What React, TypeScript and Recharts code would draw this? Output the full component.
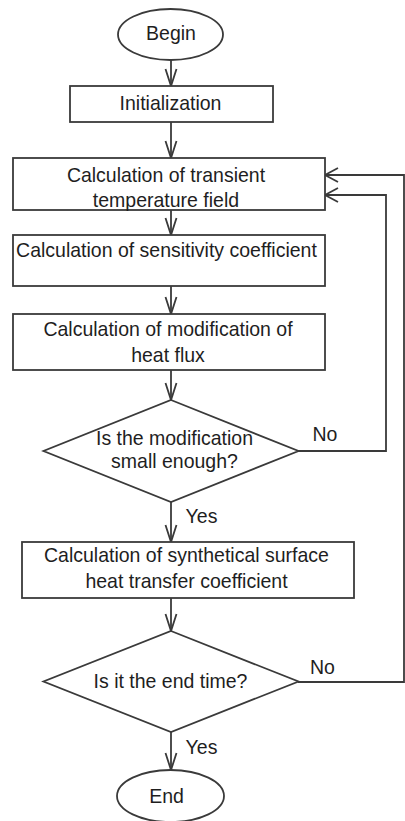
import React from "react";
import { ScatterChart, Scatter, XAxis, YAxis } from "recharts";

// ---- Flowchart content (data) ----
const nodeTexts: string[][] = [
  ["Begin"],
  ["Initialization"],
  ["Calculation of transient", "temperature field"],
  ["Calculation of sensitivity coefficient"],
  ["Calculation of modification of", "heat flux"],
  ["Is the modification", "small enough?"],
  ["Calculation of synthetical surface", "heat transfer coefficient"],
  ["Is it the end time?"],
  ["End"],
];
const nodeKinds = ["terminal", "process", "process", "process", "process", "decision", "process", "decision", "terminal"];
const branchTexts = ["No", "Yes", "No", "Yes"];

// ---- Layout (positions in the chart's coordinate space) ----
const W = 405;
const H = 821;
const nodeLayout = [
  { x: 170.5, y: 34.5, w: 105, h: 51, dx: 0.5, dy: [5.5] },
  { x: 171.5, y: 104, w: 203, h: 36, dx: -1, dy: [6] },
  { x: 169, y: 184, w: 312, h: 52, dx: -3, dy: [-2, 23] },
  { x: 169, y: 260.5, w: 312, h: 51, dx: -2.5, dy: [-3.5] },
  { x: 169, y: 342, w: 312, h: 56, dx: -1, dy: [-6, 20] },
  { x: 171, y: 451, w: 255, h: 102, dx: 3.5, dy: [-6, 17] },
  { x: 188, y: 570, w: 332, h: 56, dx: -1.5, dy: [-8, 18] },
  { x: 171, y: 681.5, w: 255, h: 101, dx: -0.5, dy: [6.5] },
  { x: 170.5, y: 796, w: 107, h: 52, dx: -4, dy: [7] },
];
const edgePaths = [
  [{ x: 171, y: 60 }, { x: 171, y: 86 }],
  [{ x: 171, y: 122 }, { x: 171, y: 158 }],
  [{ x: 171, y: 210 }, { x: 171, y: 235 }],
  [{ x: 171, y: 286 }, { x: 171, y: 314 }],
  [{ x: 171, y: 370 }, { x: 171, y: 400 }],
  [{ x: 171, y: 502 }, { x: 171, y: 542 }],
  [{ x: 171, y: 598 }, { x: 171, y: 631 }],
  [{ x: 171, y: 732 }, { x: 171, y: 770 }],
  [{ x: 298, y: 451 }, { x: 386, y: 451 }, { x: 386, y: 195 }, { x: 325, y: 195 }],
  [{ x: 298, y: 682 }, { x: 404, y: 682 }, { x: 404, y: 175 }, { x: 325, y: 175 }],
];
const branchPos = [
  { x: 325, y: 441 },
  { x: 201.5, y: 523 },
  { x: 322.5, y: 674 },
  { x: 201.5, y: 754 },
];

const STROKE = "#3a3a3a";
const SW = 1.8;
const TEXT = "#1e1e1e";
const FONT = "'Liberation Sans', Arial, sans-serif";
const FS = 19.5;
const VSTRETCH = 1.08;

const nodeData = nodeTexts.map((lines, i) => ({
  x: nodeLayout[i].x,
  y: nodeLayout[i].y,
  idx: i,
  lines,
  kind: nodeKinds[i],
}));

const labelData = branchTexts.map((t, i) => ({ x: branchPos[i].x, y: branchPos[i].y, t }));

const Txt = ({ x, y, children }: { x: number; y: number; children: React.ReactNode }) => (
  <text
    x={x}
    y={y}
    textAnchor="middle"
    fontFamily={FONT}
    fontSize={FS}
    fill={TEXT}
    transform={`translate(0 ${y}) scale(1 ${VSTRETCH}) translate(0 ${-y})`}
  >
    {children}
  </text>
);

const NodeShape = (props: any) => {
  const { cx, cy, payload } = props;
  if (cx == null || cy == null || !payload) return <g />;
  const L = nodeLayout[payload.idx];
  const hw = L.w / 2;
  const hh = L.h / 2;
  let outline: React.ReactNode;
  if (payload.kind === "terminal") {
    outline = <ellipse cx={cx} cy={cy} rx={hw} ry={hh} fill="#fff" stroke={STROKE} strokeWidth={SW} />;
  } else if (payload.kind === "decision") {
    outline = (
      <polygon
        points={`${cx},${cy - hh} ${cx + hw},${cy} ${cx},${cy + hh} ${cx - hw},${cy}`}
        fill="#fff"
        stroke={STROKE}
        strokeWidth={SW}
        strokeLinejoin="miter"
      />
    );
  } else {
    outline = <rect x={cx - hw} y={cy - hh} width={L.w} height={L.h} fill="#fff" stroke={STROKE} strokeWidth={SW} />;
  }
  return (
    <g>
      {outline}
      {payload.lines.map((line: string, k: number) => (
        <Txt key={k} x={cx + L.dx} y={cy + L.dy[k]}>
          {line}
        </Txt>
      ))}
    </g>
  );
};

const makeEdgeShape = (pts: { x: number; y: number }[]) => (props: any) => {
  const { cx, cy, payload } = props;
  const last = pts[pts.length - 1];
  if (cx == null || !payload || payload !== last) return <g />;
  const prev = pts[pts.length - 2];
  const ddx = Math.sign(last.x - prev.x);
  const ddy = Math.sign(last.y - prev.y);
  let d = "";
  if (ddy !== 0) {
    const len = 17, hwid = 5.5;
    d = `M${cx - hwid},${cy - ddy * len} L${cx},${cy} L${cx + hwid},${cy - ddy * len}`;
  } else {
    const len = 13, hwid = 7;
    d = `M${cx - ddx * len},${cy - hwid} L${cx},${cy} L${cx - ddx * len},${cy + hwid}`;
  }
  return <path d={d} fill="none" stroke={STROKE} strokeWidth={SW} />;
};

const LabelShape = (props: any) => {
  const { cx, cy, payload } = props;
  if (cx == null || !payload) return <g />;
  return <Txt x={cx} y={cy}>{payload.t}</Txt>;
};

export default function App() {
  return (
    <div style={{ position: "absolute", left: 0, top: 0, width: W, height: H, background: "#fff" }}>
      <ScatterChart width={W} height={H} margin={{ top: 0, right: 0, bottom: 0, left: 0 }}>
        <XAxis type="number" dataKey="x" domain={[0, W]} hide allowDataOverflow />
        <YAxis type="number" dataKey="y" domain={[0, H]} reversed hide width={0} allowDataOverflow />
        {edgePaths.map((pts, i) => (
          <Scatter
            key={`e${i}`}
            data={pts}
            line={{ stroke: STROKE, strokeWidth: SW }}
            lineType="joint"
            shape={makeEdgeShape(pts)}
            isAnimationActive={false}
          />
        ))}
        <Scatter data={nodeData} shape={NodeShape} isAnimationActive={false} />
        <Scatter data={labelData} shape={LabelShape} isAnimationActive={false} />
      </ScatterChart>
    </div>
  );
}
